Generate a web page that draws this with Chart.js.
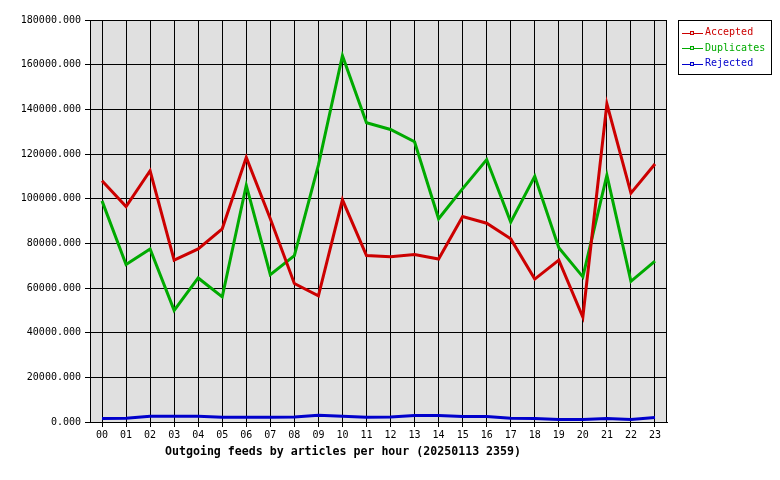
<!DOCTYPE html>
<html>
<head>
<meta charset="utf-8">
<script src="https://cdn.jsdelivr.net/npm/chart.js@4/dist/chart.umd.min.js"></script>
<style>
  html, body { margin: 0; padding: 0; background: #fff; }
</style>
</head>
<body>
<canvas id="feeds-chart" width="780" height="480"></canvas>
<script>
var hours = ['00', '01', '02', '03', '04', '05', '06', '07', '08', '09', '10', '11',
  '12', '13', '14', '15', '16', '17', '18', '19', '20', '21', '22', '23'];
var accepted = [108000, 96500, 112500, 72500, 77500, 86500, 118500, 91000, 62000, 56500, 99500, 74500,
  74000, 75000, 73000, 92000, 89000, 82000, 64000, 72500, 47000, 142500, 102500, 115500];
var duplicates = [99000, 70500, 77500, 50000, 64500, 56000, 106000, 66000, 74500, 115000, 164000, 134000,
  131000, 125500, 91000, 104500, 117500, 89500, 110000, 78000, 65000, 110500, 63000, 72000];
var rejected = [1600, 1700, 2600, 2600, 2600, 2100, 2100, 2100, 2200, 3000, 2600, 2100,
  2200, 2900, 2900, 2500, 2500, 1700, 1600, 1100, 1100, 1600, 1100, 2000];
var yMax = 180000, yStep = 20000;
var caption = 'Outgoing feeds by articles per hour (20250113 2359)';

Chart.defaults.font.family = '"DejaVu Sans Mono", monospace';
Chart.defaults.font.size = 10;
Chart.defaults.color = '#000';

// grey plot area + black frame, under the lines
var plotFrame = {
  id: 'plotFrame',
  beforeDraw: function(chart) {
    var a = chart.chartArea, ctx = chart.ctx;
    ctx.save();
    ctx.fillStyle = '#e0e0e0';
    ctx.fillRect(a.left, a.top, a.right - a.left, a.bottom - a.top);
    ctx.restore();
  },
  beforeDatasetsDraw: function(chart) {
    var a = chart.chartArea, ctx = chart.ctx;
    ctx.save();
    ctx.strokeStyle = '#000';
    ctx.lineWidth = 1;
    ctx.strokeRect(a.left + 0.5, a.top + 0.5, a.right - a.left - 1, a.bottom - a.top);
    ctx.restore();
  }
};

// boxed legend at top right, caption under the axis
var boxLegend = {
  id: 'boxLegend',
  afterDraw: function(chart) {
    var ctx = chart.ctx;
    ctx.save();
    ctx.strokeStyle = '#000';
    ctx.lineWidth = 1;
    ctx.strokeRect(678.5, 20.5, 93, 54);
    ctx.font = '10px "DejaVu Sans Mono", monospace';
    ctx.textBaseline = 'middle';
    chart.data.datasets.forEach(function(ds, i) {
      var y = 32.5 + i * 15.5;
      ctx.strokeStyle = ds.borderColor;
      ctx.beginPath();
      ctx.moveTo(682, Math.round(y) + 0.5);
      ctx.lineTo(703, Math.round(y) + 0.5);
      ctx.stroke();
      ctx.fillStyle = '#e0e0e0';
      ctx.fillRect(690.5, Math.round(y) - 1.5, 3, 3);
      ctx.strokeRect(690.5, Math.round(y) - 1.5, 3, 3);
      ctx.fillStyle = ds.borderColor;
      ctx.fillText(ds.label, 705, y);
    });
    ctx.fillStyle = '#000';
    ctx.font = 'bold 11.6px "DejaVu Sans Mono", monospace';
    ctx.textAlign = 'center';
    ctx.fillText(caption, 343, 452);
    ctx.restore();
  }
};

new Chart(document.getElementById('feeds-chart'), {
  type: 'line',
  data: {
    labels: hours,
    datasets: [
      {label: 'Accepted', data: accepted, borderColor: '#cc0000'},
      {label: 'Duplicates', data: duplicates, borderColor: '#00aa00'},
      {label: 'Rejected', data: rejected, borderColor: '#0000cc'}
    ]
  },
  options: {
    responsive: false,
    animation: false,
    layout: {padding: {left: 0, top: 20, right: 113, bottom: 0}},
    elements: {
      line: {borderWidth: 3, tension: 0},
      point: {radius: 0, hoverRadius: 0}
    },
    plugins: {
      legend: {display: false},
      tooltip: {enabled: false}
    },
    scales: {
      x: {
        offset: true,
        afterFit: function(scale) { scale.height = 58; },
        grid: {color: '#000', lineWidth: 1, tickLength: 5, offset: false},
        border: {display: true, color: '#000'},
        ticks: {padding: 2, maxRotation: 0, autoSkip: false}
      },
      y: {
        min: 0,
        max: yMax,
        afterFit: function(scale) { scale.width = 90; },
        grid: {color: '#000', lineWidth: 1, tickLength: 5},
        border: {display: true, color: '#000'},
        ticks: {
          stepSize: yStep,
          padding: 4,
          callback: function(value) { return value.toFixed(3); }
        }
      }
    }
  },
  plugins: [plotFrame, boxLegend]
});
</script>
</body>
</html>
